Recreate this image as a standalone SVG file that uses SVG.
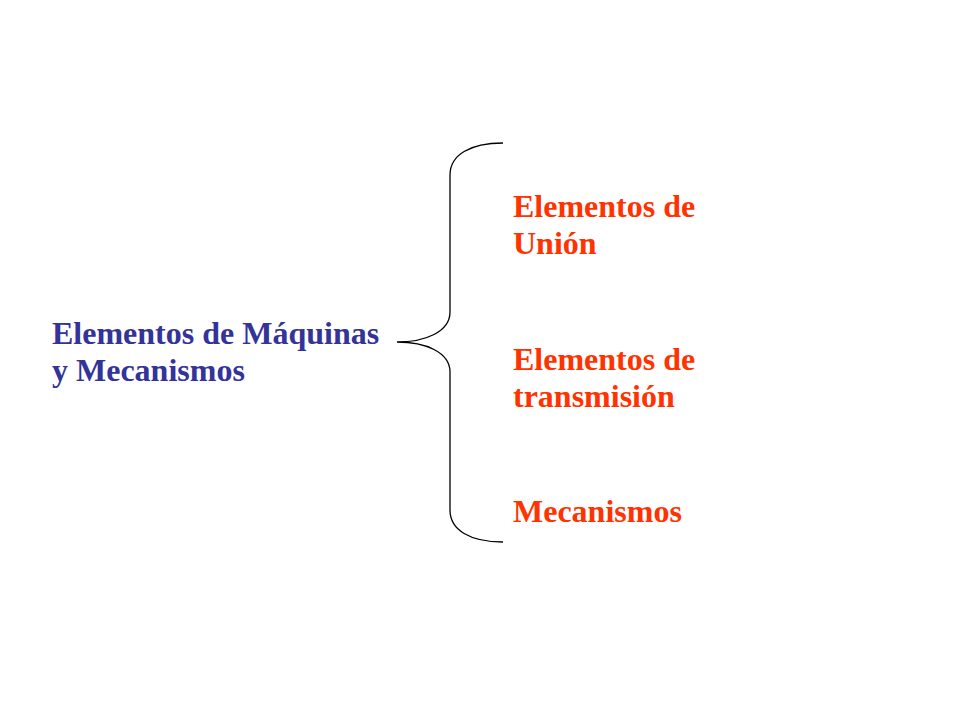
<svg xmlns="http://www.w3.org/2000/svg" width="960" height="720" viewBox="0 0 960 720">
<style>
text{font-family:"Liberation Serif","Times New Roman",serif;font-weight:bold;font-size:32px}
.main{fill:#333399}
.sub{fill:#FF3300}
.brace{fill:none;stroke:#000;stroke-width:1.3}
</style>
<rect width="960" height="720" fill="#fff"/>
<g id="root"><text class="main" x="52" y="344">Elementos de Máquinas</text><text class="main" x="52" y="381">y Mecanismos</text></g>
<g id="connectors"><path class="brace" d="M503,143 C470,143 450,155 450,175 L450,312 C450,332 425,342 397,342 C425,342 450,352 450,372 L450,510 C450,530 470,542 503,542"/></g>
<g id="n1"><text class="sub" x="513" y="217">Elementos de</text><text class="sub" x="513" y="254">Unión</text></g>
<g id="n2"><text class="sub" x="513" y="370">Elementos de</text><text class="sub" x="513" y="407">transmisión</text></g>
<g id="n3"><text class="sub" x="513" y="522">Mecanismos</text></g>
</svg>
